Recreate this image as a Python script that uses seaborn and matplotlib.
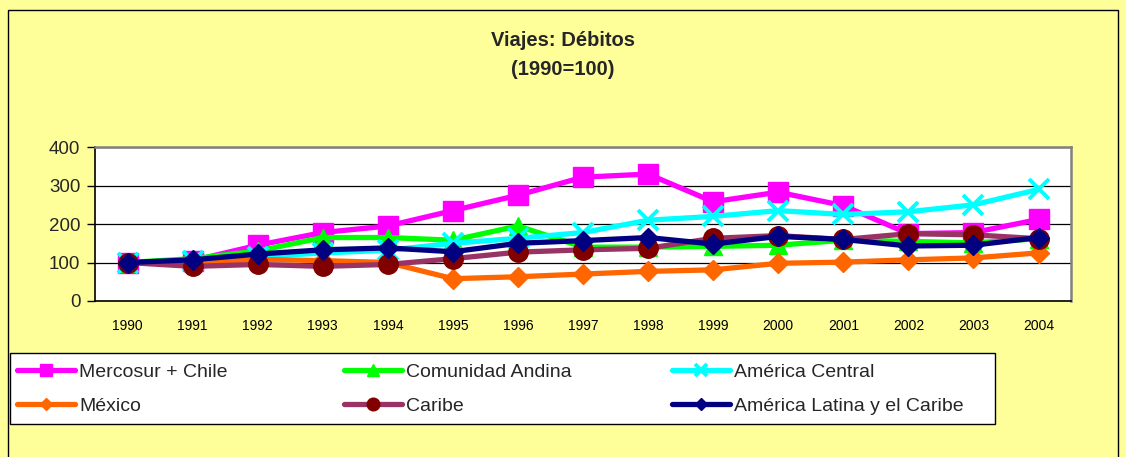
import numpy as np
import pandas as pd
import seaborn as sns
import matplotlib.pyplot as plt
from matplotlib.patches import Rectangle

# Datos (índice 1990=100)
anios = list(range(1990, 2005))
mercosur_chile = [100, 105, 145, 178, 195, 235, 275, 322, 330, 258, 283, 248, 175, 178, 212]
comunidad_andina = [100, 110, 130, 165, 165, 158, 195, 140, 140, 142, 145, 158, 155, 151, 162]
america_central = [100, 105, 115, 125, 132, 150, 163, 178, 210, 220, 235, 225, 232, 250, 290]
mexico = [100, 100, 108, 105, 100, 58, 63, 70, 77, 81, 98, 101, 107, 112, 125]
caribe = [100, 90, 95, 90, 95, 110, 127, 133, 137, 163, 170, 160, 175, 172, 162]
america_latina = [100, 107, 122, 133, 138, 128, 150, 157, 165, 148, 168, 160, 143, 145, 165]

series = {
    'Mercosur + Chile': mercosur_chile,
    'Comunidad Andina': comunidad_andina,
    'América Central': america_central,
    'México': mexico,
    'Caribe': caribe,
    'América Latina y el Caribe': america_latina,
}

# color de línea, marcador, color del marcador, tamaño
estilos = {
    'Mercosur + Chile': ('#FF00FF', 's', '#FF00FF', 14),
    'Comunidad Andina': ('#00FF00', '^', '#00FF00', 13),
    'América Central': ('#00FFFF', 'x', '#00FFFF', 14),
    'México': ('#FF6600', 'D', '#FF6600', 10),
    'Caribe': ('#993366', 'o', '#800000', 14),
    'América Latina y el Caribe': ('#000080', 'D', '#000080', 10),
}

df = pd.DataFrame({'Año': anios, **series})
df_largo = df.melt(id_vars='Año', var_name='Serie', value_name='Índice')

sns.set_theme(style='white')
plt.rcParams['font.family'] = ['Liberation Sans', 'DejaVu Sans']

fig = plt.figure(figsize=(11.26, 4.57), dpi=100)
fig.patch.set_facecolor('#FFFF99')
fig.patches.append(Rectangle((0.007, -0.01), 0.986, 0.988, transform=fig.transFigure,
                             fill=False, edgecolor='black', linewidth=1))

ax = fig.add_axes([0.0844, 0.3414, 0.8668, 0.3366])
ax.set_facecolor('white')

for nombre in series:
    color, marcador, color_marca, tam = estilos[nombre]
    datos = df_largo[df_largo['Serie'] == nombre]
    sns.lineplot(data=datos, x='Año', y='Índice', ax=ax, color=color, linewidth=3.8,
                 marker=marcador, markersize=tam, markerfacecolor=color_marca,
                 markeredgecolor=color_marca, markeredgewidth=2.8 if marcador == 'x' else 1,
                 label=nombre, legend=False)

ax.set_xlim(1989.5, 2004.5)
ax.set_ylim(0, 400)
ax.set_yticks([0, 100, 200, 300, 400])
ax.set_xticks(anios)
ax.set_xticks(np.arange(1989.5, 2005, 1), minor=True)
ax.tick_params(axis='x', which='major', length=0, labelsize=10, pad=13, colors='black')
ax.tick_params(axis='x', which='minor', length=4, width=1, color='black', direction='out')
ax.tick_params(axis='y', length=5.5, width=1, color='black', direction='out', labelsize=13.5,
               pad=5, left=True)
ax.set_xlabel('')
ax.set_ylabel('')
ax.grid(axis='y', color='black', linewidth=0.9)
ax.set_axisbelow(True)
for lado in ['top', 'right']:
    ax.spines[lado].set_color('#808080')
    ax.spines[lado].set_linewidth(1.8)
for lado in ['left', 'bottom']:
    ax.spines[lado].set_color('black')
    ax.spines[lado].set_linewidth(1.2)

fig.text(0.5, 1 - 40.5 / 457, 'Viajes: Débitos', ha='center', va='center', fontsize=14.5,
         fontweight='bold')
fig.text(0.5, 1 - 69.5 / 457, '(1990=100)', ha='center', va='center', fontsize=14.5,
         fontweight='bold')

# Leyenda: marco y tres columnas, ordenada por filas
fig.patches.append(Rectangle((10 / 1126, 1 - 424 / 457), 985 / 1126, 71 / 457,
                             transform=fig.transFigure, facecolor='white',
                             edgecolor='black', linewidth=1, zorder=1))
handles, labels = ax.get_legend_handles_labels()
columnas_x = [17, 344, 672]
for i, x0 in enumerate(columnas_x):
    h = [handles[i], handles[i + 3]]
    l = [labels[i], labels[i + 3]]
    leg = fig.legend(h, l, loc='center left', bbox_to_anchor=(x0 / 1126, 1 - 389 / 457),
                     frameon=False, fontsize=14, handlelength=3.0, handletextpad=0.2,
                     borderaxespad=0, borderpad=0, labelspacing=0.85, markerscale=0.65)
    leg.set_zorder(2)

fig.savefig('out.png', dpi=100, facecolor=fig.get_facecolor())
